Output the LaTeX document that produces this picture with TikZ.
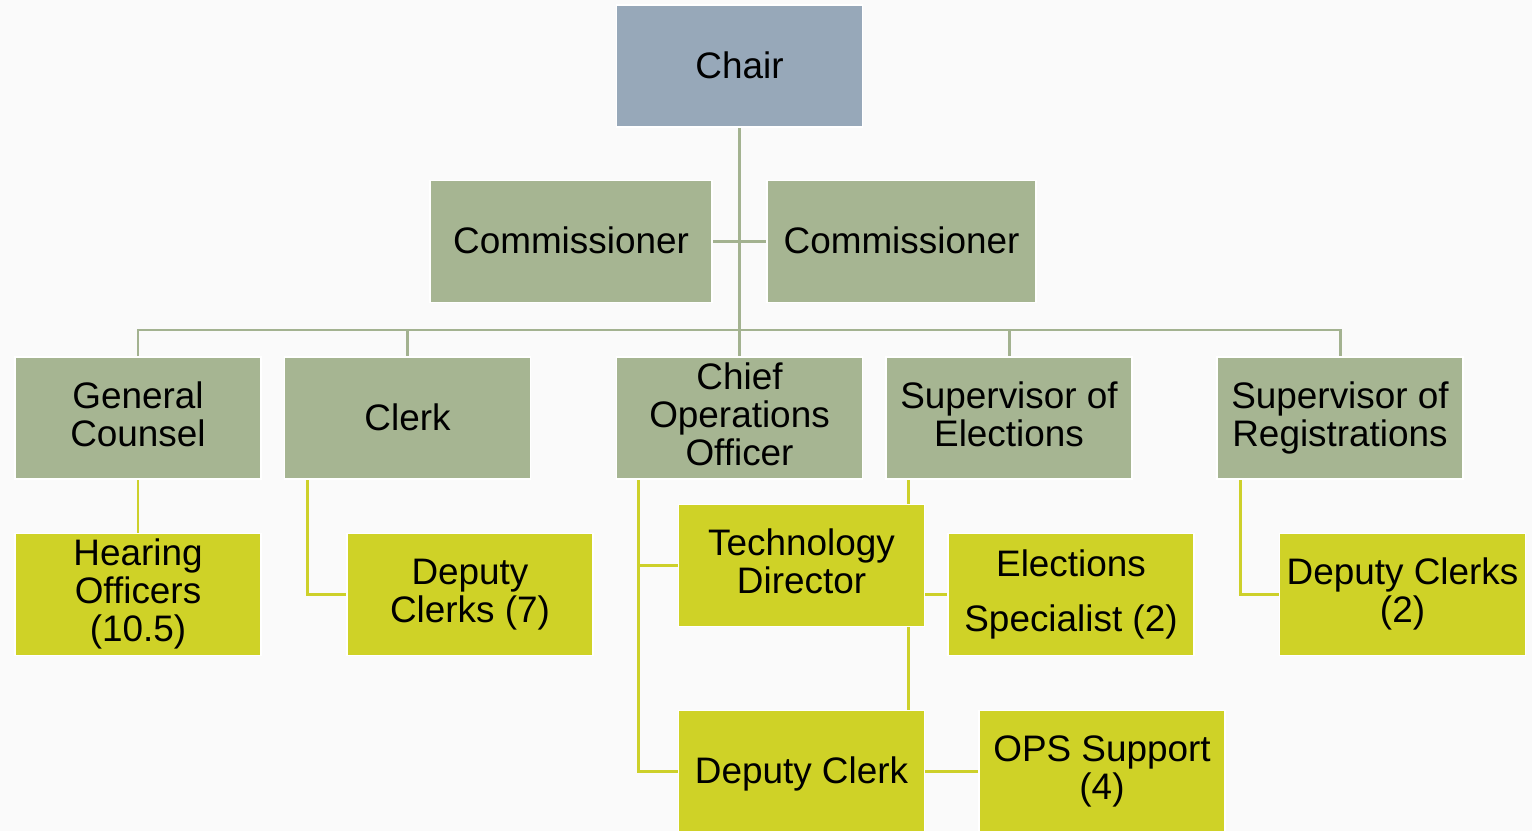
\documentclass[tikz,border=0pt]{standalone}
\usepackage{fontspec}
\setmainfont{Liberation Sans}
\pgfdeclarelayer{bg}
\pgfsetlayers{bg,main}
\definecolor{pagebg}{HTML}{FAFAFA}
\definecolor{chairfill}{HTML}{97A8B9}
\definecolor{staff}{HTML}{A6B592}
\definecolor{unit}{HTML}{CFD227}
\definecolor{staffline}{HTML}{A3B290}
\definecolor{unitline}{HTML}{CDD02A}
% invisible rule that fixes the line extents, so all boxes centre their text alike
\newcommand\boxstrut{\rule[-4.6pt]{0pt}{23.4pt}}
\tikzset{
  box/.style={draw=white, line width=1pt, inner sep=0pt, align=center,
    minimum width=4.92cm, minimum height=2.44cm,
    font=\fontsize{21}{21.6}\selectfont,
    execute at begin node={\boxstrut}, execute at end node={\boxstrut}},
  topbox/.style={box, fill=chairfill},
  staffbox/.style={box, fill=staff},
  unitbox/.style={box, fill=unit},
  staffconn/.style={draw=staffline, line width=1.7pt},
  unitconn/.style={draw=unitline, line width=1.7pt},
}
\begin{document}
\begin{tikzpicture}[x=0.02cm,y=-0.02cm]
\useasboundingbox (0,0) rectangle (1532,831);
\begin{scope}
\clip (0,0) rectangle (1532,831);

% top of the chart
\node[topbox] (chair) at (739.5,66) {Chair};
\node[staffbox, minimum width=5.64cm] (comL) at (571,241.5) {Commissioner};
\node[staffbox, minimum width=5.38cm] (comR) at (901.5,241.5) {Commissioner};

% second row
\node[staffbox] (gc) at (138,418) {General\\Counsel};
\node[staffbox] (clerk) at (407.5,418) {Clerk};
\node[staffbox] (coo) at (739.5,418) {Chief\\Operations\\Officer};
\node[staffbox] (soe) at (1009,418) {Supervisor of\\Elections};
\node[staffbox] (sor) at (1340,418) {Supervisor of\\Registrations};

% third row
\node[unitbox] (ho) at (138,594.5) {Hearing\\Officers\\(10.5)};
\node[unitbox] (dc7) at (470,594.5) {Deputy\\Clerks (7)};
\node[unitbox] (tech) at (801.5,565.5) {Technology\\Director};
\node[unitbox] (es) at (1071,594.5) {Elections\\[0.34cm]Specialist (2)};
\node[unitbox] (dc2) at (1402.5,594.5) {Deputy Clerks\\(2)};
\node[unitbox] (dclerk) at (801.5,771.5) {Deputy Clerk};
\node[unitbox] (ops) at (1102,771.5) {OPS Support\\(4)};

\coordinate (bus) at (739.5,330);

\begin{pgfonlayer}{bg}
  \fill[pagebg] (0,0) rectangle (1532,831);

  \draw[staffconn] (chair.south) -- (coo.north);
  \draw[staffconn] (comL.east) -- (comR.west);
  \draw[staffconn] (gc.north) |- (bus);
  \draw[staffconn] (clerk.north) |- (bus);
  \draw[staffconn] (soe.north) |- (bus);
  \draw[staffconn] (sor.north) |- (bus);

  \draw[unitconn] (gc.south) -- (ho.north);
  \draw[unitconn] ([xshift=0.48cm]clerk.south west) |- (dc7.west);
  \draw[unitconn] ([xshift=0.46cm]coo.south west) |- (tech.west);
  \draw[unitconn] ([xshift=0.46cm]coo.south west) |- (dclerk.west);
  \draw[unitconn] ([xshift=0.46cm]soe.south west) |- (es.west);
  \draw[unitconn] ([xshift=0.46cm]soe.south west) |- (ops.west);
  \draw[unitconn] ([xshift=0.48cm]sor.south west) |- (dc2.west);
\end{pgfonlayer}
\end{scope}
\end{tikzpicture}
\end{document}
